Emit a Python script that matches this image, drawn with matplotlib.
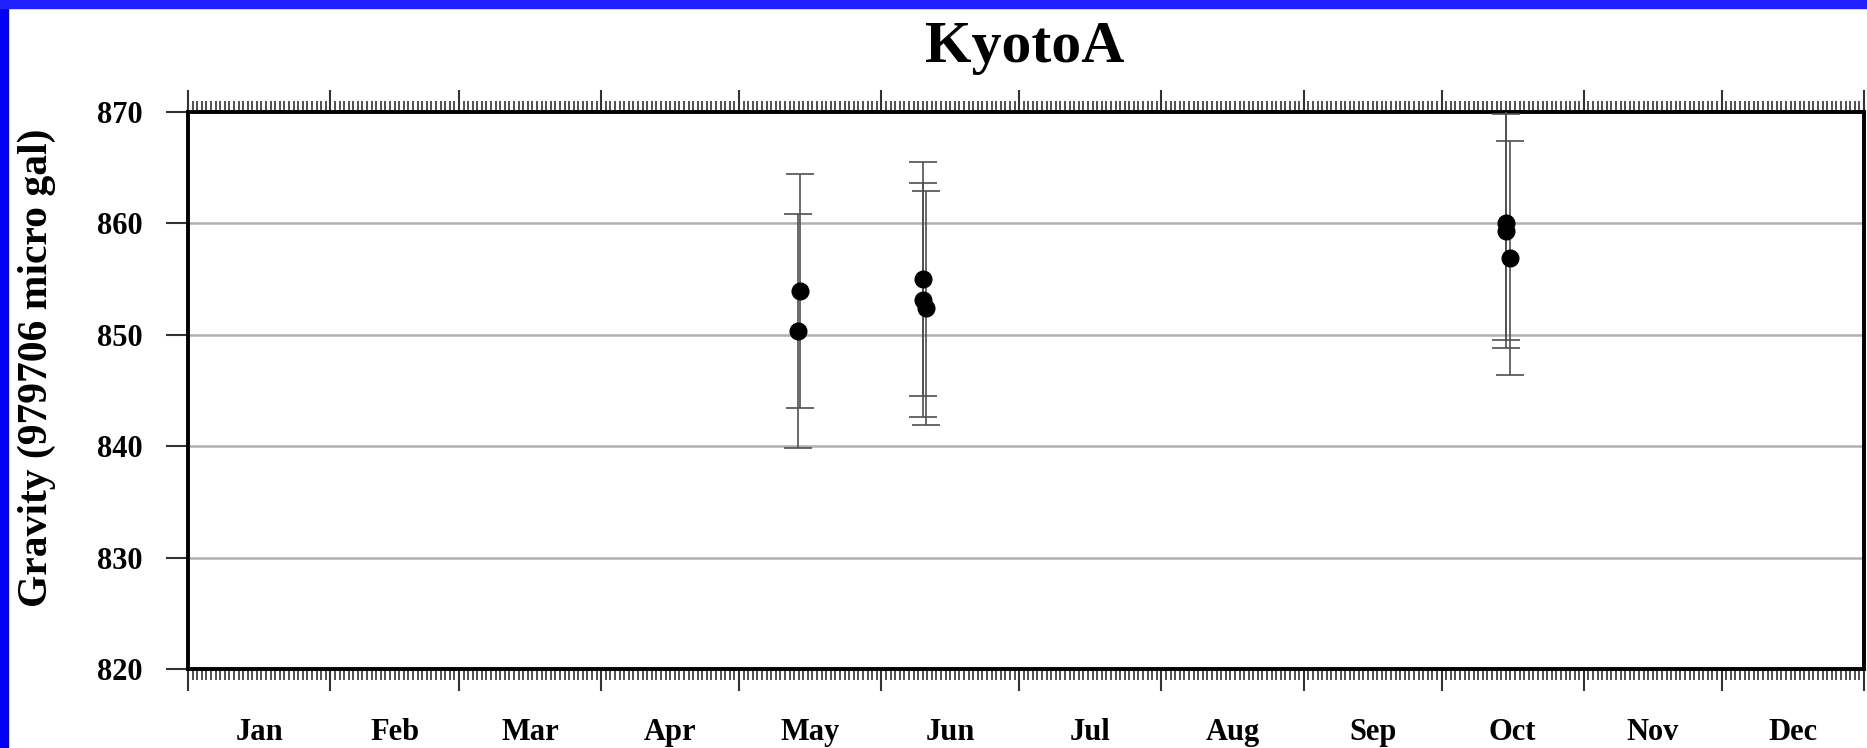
import matplotlib
matplotlib.use('Agg')
import matplotlib.pyplot as plt
import matplotlib.transforms as mtransforms
from matplotlib.patches import Rectangle
from matplotlib.ticker import FixedLocator, MultipleLocator, NullFormatter

plt.rcParams['font.family'] = ['Liberation Serif', 'DejaVu Serif']
plt.rcParams['font.weight'] = 'bold'

# day of year (Jan 1 = 0), gravity value, error
days = [133.3, 132.8, 160.0, 160.0, 160.7, 287.0, 287.0, 287.8]
gravity = [853.9, 850.3, 855.0, 853.1, 852.4, 860.0, 859.3, 856.9]
errors = [10.5, 10.5, 10.5, 10.5, 10.5, 10.5, 10.5, 10.5]

months = ['Jan', 'Feb', 'Mar', 'Apr', 'May', 'Jun',
          'Jul', 'Aug', 'Sep', 'Oct', 'Nov', 'Dec']
month_len = [31, 28, 31, 30, 31, 30, 31, 31, 30, 31, 30, 31]
month_start = [sum(month_len[:i]) for i in range(13)]

fig = plt.figure(figsize=(18.67, 7.48), dpi=100)
fig.patch.set_facecolor('white')
ax = fig.add_axes([188 / 1867, 79 / 748, (1864 - 188) / 1867, (669 - 112) / 748])

# blue frame on left and top
fig.patches.append(Rectangle((0, 0), 8 / 1867, 1, transform=fig.transFigure,
                             color='#0000ff', zorder=0))
fig.patches.append(Rectangle((0, 1 - 8 / 748), 1, 8 / 748, transform=fig.transFigure,
                             color='#2020ff', zorder=0))

ax.errorbar(days, gravity, yerr=errors, fmt='o', color='black', ms=12,
            ecolor='#505050', elinewidth=1.2, capsize=10, capthick=1.2, zorder=3)

ax.set_xlim(0, 365)
ax.set_ylim(820, 870)

ax.set_yticks([820, 830, 840, 850, 860, 870])
ax.yaxis.grid(True, color='#b0b0b0', linewidth=1.8)
ax.set_axisbelow(True)

ax.xaxis.set_major_locator(FixedLocator(month_start))
ax.xaxis.set_minor_locator(MultipleLocator(1))
ax.xaxis.set_major_formatter(NullFormatter())

ax.tick_params(axis='x', which='major', direction='out', length=16, width=1.5,
               top=True, bottom=True, color='#333333')
ax.tick_params(axis='x', which='minor', direction='out', length=8, width=1.1,
               top=True, bottom=True, color='#222222')
ax.tick_params(axis='y', which='major', direction='out', length=16, width=1.5,
               pad=17, labelsize=22, left=True, right=False, color='#333333')

for s in ax.spines.values():
    s.set_linewidth(2.8)

trans = mtransforms.blended_transform_factory(ax.transData, fig.transFigure)
for i, m in enumerate(months):
    mid = (month_start[i] + month_start[i + 1]) / 2
    ax.text(mid, 0.021, m, transform=trans, ha='center', va='center',
            fontsize=22, fontweight='bold')

fig.text(0.549, 0.917, 'KyotoA', ha='center', va='baseline',
         fontsize=43, fontweight='bold')
fig.text(37 / 1867, 0.508, 'Gravity (979706 micro gal)', rotation=90,
         ha='center', va='center', fontsize=30, fontweight='bold')

fig.savefig('out.png', dpi=100)
